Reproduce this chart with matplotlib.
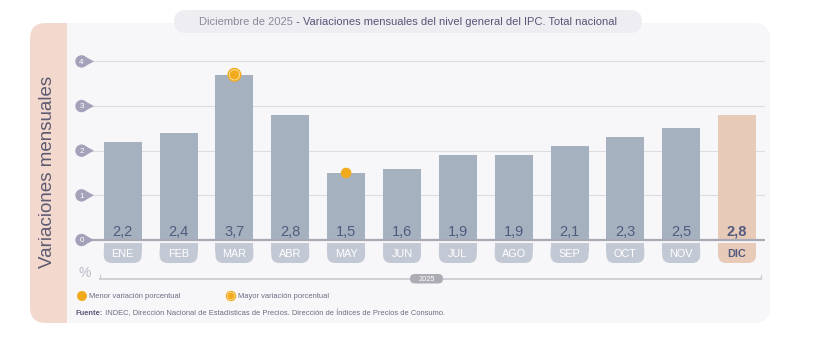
import matplotlib
matplotlib.use("Agg")
import matplotlib.pyplot as plt
from matplotlib.patches import FancyBboxPatch, Rectangle, Circle, Polygon

plt.rcParams['font.family'] = ['Liberation Sans', 'DejaVu Sans']

# Data
months = ["ENE", "FEB", "MAR", "ABR", "MAY", "JUN", "JUL", "AGO", "SEP", "OCT", "NOV", "DIC"]
values = [2.2, 2.4, 3.7, 2.8, 1.5, 1.6, 1.9, 1.9, 2.1, 2.3, 2.5, 2.8]
value_labels = ["2,2", "2,4", "3,7", "2,8", "1,5", "1,6", "1,9", "1,9", "2,1", "2,3", "2,5", "2,8"]
y_ticks = [0, 1, 2, 3, 4]
year_label = "2025"
title_date = "Diciembre de 2025"
title_main = " - Variaciones mensuales del nivel general del IPC. Total nacional"
y_title = "Variaciones mensuales"
legend_min = "Menor variación porcentual"
legend_max = "Mayor variación porcentual"
source_bold = "Fuente:"
source_text = " INDEC, Dirección Nacional de Estadísticas de Precios. Dirección de Índices de Precios de Consumo."

W, H = 818, 342
BAR = "#a6b1bf"
HIGHLIGHT = "#e8cab8"
PILL = "#c3c9d4"
TEXT_DARK = "#525a7e"
ORANGE = "#f0aa1c"
MARK = "#a3a2ba"

fig = plt.figure(figsize=(W / 100, H / 100), dpi=100)
fig.patch.set_facecolor("white")

# background layer in pixel coordinates (origin top-left)
bg = fig.add_axes([0, 0, 1, 1], zorder=0)
bg.set_xlim(0, W); bg.set_ylim(H, 0); bg.axis("off")
fg = fig.add_axes([0, 0, 1, 1], zorder=3)
fg.set_xlim(0, W); fg.set_ylim(H, 0); fg.axis("off")
fg.patch.set_alpha(0)

# card and left strip
bg.add_patch(FancyBboxPatch((30, 23), 740, 300, boxstyle="round,pad=0,rounding_size=16",
                            fc="#f7f7f9", ec="none"))
bg.add_patch(FancyBboxPatch((30, 23), 60, 300, boxstyle="round,pad=0,rounding_size=16",
                            fc="#f3d9cd", ec="none"))
bg.add_patch(Rectangle((67, 23), 30, 300, fc="#f7f7f9", ec="none"))

# data axes
ax_left, ax_right = 92, 765
ax_top, ax_bot = 40, 290
ax = fig.add_axes([ax_left / W, (H - ax_bot) / H, (ax_right - ax_left) / W, (ax_bot - ax_top) / H],
                  zorder=1)
ax.patch.set_alpha(0)
x = list(range(len(months)))
ax.set_xlim(-0.55, 11.5)
px_per_unit = 44.65
ax.set_ylim(-(ax_bot - 240) / px_per_unit, (240 - ax_top) / px_per_unit)
for s in ax.spines.values():
    s.set_visible(False)
ax.set_xticks([]); ax.set_yticks([])

for t in y_ticks[1:]:
    ax.axhline(t, color="#dcdce3", lw=0.8, zorder=0)
ax.axhline(0, color="#a9a9b6", lw=1.6, zorder=3)

colors = [BAR] * (len(months) - 1) + [HIGHLIGHT]
ax.bar(x, values, width=0.68, color=colors, zorder=2)

for i, lab in enumerate(value_labels):
    last = i == len(months) - 1
    ax.text(i, 0.18, lab, ha="center", va="center", fontsize=10.5, color=TEXT_DARK,
            fontweight="bold" if last else "normal", zorder=4)


def to_px(xd, yd):
    dx, dy = ax.transData.transform((xd, yd))
    return dx, H - dy


# highlight markers on max (ring) and min (dot)
imax = values.index(max(values[:-1]))
imin = values.index(min(values))
mx, my = to_px(imax, values[imax])
fg.add_patch(Circle((mx, my), 7, fc=ORANGE, ec="none"))
fg.add_patch(Circle((mx, my), 5.6, fc="#fbdc9a", ec="none"))
fg.add_patch(Circle((mx, my), 4.6, fc=ORANGE, ec="none"))
nx, ny = to_px(imin, values[imin])
fg.add_patch(Circle((nx, ny), 5.3, fc=ORANGE, ec="none"))

# month pills under the axis
bar_w_px = to_px(0.34, 0)[0] - to_px(-0.34, 0)[0]
for i, m in enumerate(months):
    cx, _ = to_px(i, 0)
    last = i == len(months) - 1
    fc = HIGHLIGHT if last else PILL
    bg.add_patch(FancyBboxPatch((cx - bar_w_px / 2, 243), bar_w_px, 20,
                                boxstyle="round,pad=0,rounding_size=8", fc=fc, ec="none"))
    bg.add_patch(Rectangle((cx - bar_w_px / 2, 243), bar_w_px, 9, fc=fc, ec="none"))
    bg.text(cx, 257, m, ha="center", va="baseline", fontsize=7.8,
            color=TEXT_DARK if last else "white", fontweight="bold" if last else "normal")

# teardrop tick markers
for t in y_ticks:
    _, ty = to_px(0, t)
    cx = 81.5
    fg.add_patch(Polygon([(cx + 2.2, ty - 5.6), (cx + 12.5, ty), (cx + 2.2, ty + 5.6)],
                         closed=True, fc=MARK, ec="none", zorder=2))
    fg.add_patch(Circle((cx, ty), 6.2, fc=MARK, ec="none", zorder=2))
    fg.text(cx, ty + 2.2, str(t), ha="center", va="baseline", fontsize=5.8, color="white",
            zorder=3)

# percent sign and year timeline
bg.text(85, 277, "%", ha="center", va="baseline", fontsize=10, color="#b9b9c5")
bg.plot([99, 761], [278.5, 278.5], color="#cfcfd6", lw=1.4, solid_capstyle="butt", zorder=1)
bg.plot([99.5, 99.5], [278.5, 275], color="#cfcfd6", lw=1, zorder=1)
bg.plot([760.5, 760.5], [278.5, 275], color="#cfcfd6", lw=1, zorder=1)
bg.add_patch(FancyBboxPatch((410, 274), 33, 9.5, boxstyle="round,pad=0,rounding_size=4.7",
                            fc="#acacb4", ec="none", zorder=3))
bg.text(426.5, 281, year_label, ha="center", va="baseline", fontsize=5.3, color="white",
        zorder=4)

# legend
bg.add_patch(Circle((82, 296), 5, fc=ORANGE, ec="none"))
bg.text(89, 298.3, legend_min, ha="left", va="baseline", fontsize=5.4, color="#6b6b82")
bg.add_patch(Circle((231, 296), 5.2, fc=ORANGE, ec="none"))
bg.add_patch(Circle((231, 296), 4.1, fc="#fbdc9a", ec="none"))
bg.add_patch(Circle((231, 296), 3.3, fc=ORANGE, ec="none"))
bg.text(238, 298.3, legend_max, ha="left", va="baseline", fontsize=5.4, color="#6b6b82")

renderer = fig.canvas.get_renderer()

# source line
t1 = bg.text(76, 315, source_bold, ha="left", va="baseline", fontsize=5.4,
             color="#5a5a78", fontweight="bold")
w1 = t1.get_window_extent(renderer).width
bg.text(76 + w1, 315, source_text, ha="left", va="baseline", fontsize=5.4, color="#6b6b82")

# title pill
bg.add_patch(FancyBboxPatch((174, 10), 468, 23, boxstyle="round,pad=0,rounding_size=11.5",
                            fc="#eeedf2", ec="none"))
ta = bg.text(0, 0, title_date, fontsize=8)
tb = bg.text(0, 0, title_main, fontsize=8)
wa = ta.get_window_extent(renderer).width
wb = tb.get_window_extent(renderer).width
x0 = 408 - (wa + wb) / 2
ta.set_position((x0, 25.3)); ta.set_va("baseline"); ta.set_color("#8a8a9c")
tb.set_position((x0 + wa, 25.3)); tb.set_va("baseline"); tb.set_color("#5b5476")

# vertical axis title
fig.text(48 / W, 1 - 172 / H, y_title, rotation=90, ha="center", va="center",
         fontsize=13.5, color="#5c5a72")

fig.savefig("out.png", dpi=100)
